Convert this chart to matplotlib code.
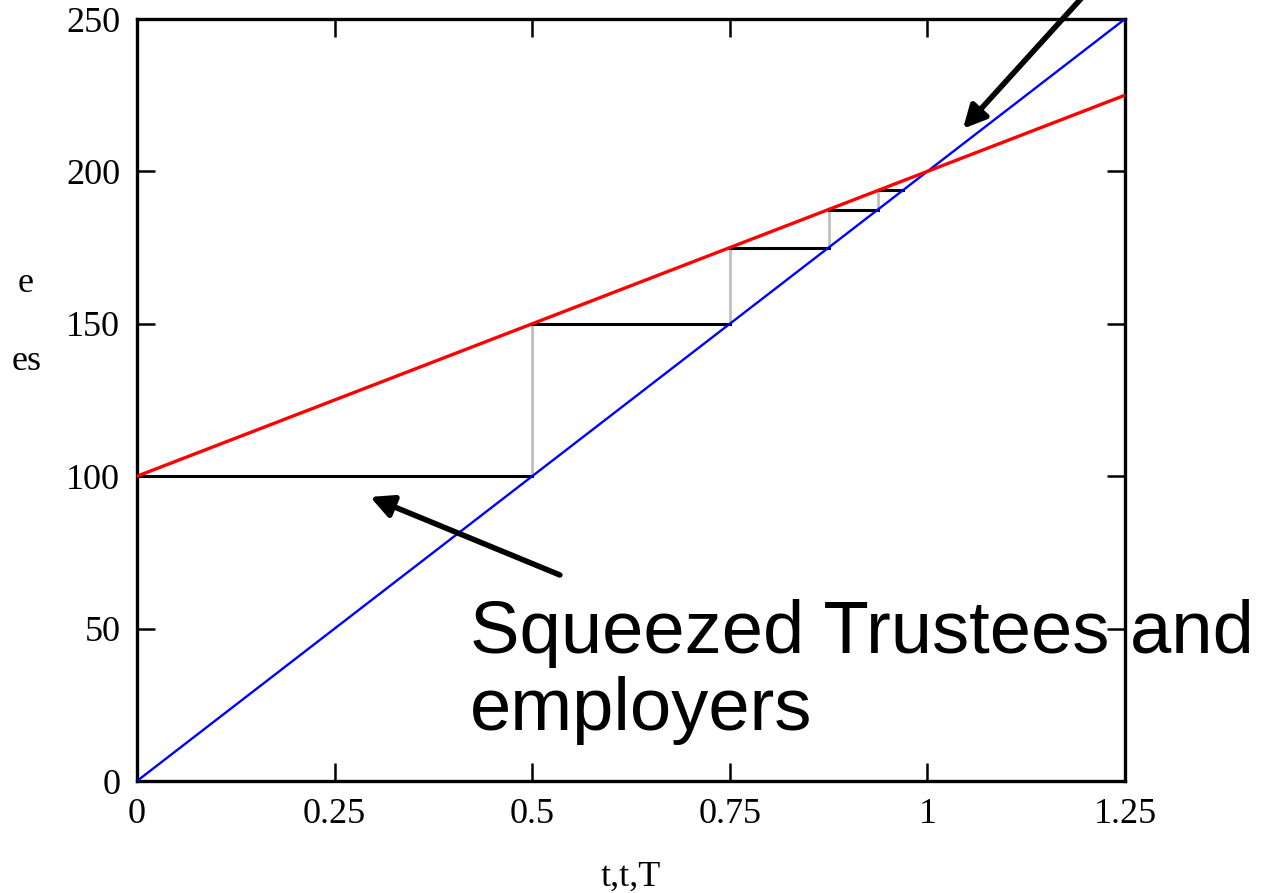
import matplotlib
matplotlib.use('Agg')
import matplotlib.pyplot as plt

# ============================================
# DATA
# ============================================
t_ends = [0.0, 1.25]
blue_vals = [0.0, 250.0]     # liabilities line
red_vals = [100.0, 225.0]    # assets line

# staircase between the two lines
step_x = [0.0, 0.5, 0.75, 0.875, 0.9375, 0.96875]
step_y = [100.0, 150.0, 175.0, 187.5, 193.75]

x_ticks = [0, 0.25, 0.5, 0.75, 1, 1.25]
x_tick_labels = ['0', '0.25', '0.5', '0.75', '1', '1.25']
y_ticks = [0, 50, 100, 150, 200, 250]

# arrow positions (data coords)
arrow_top_tail = (1.199, 258.0)
arrow_top_head = (1.045, 214.0)
arrow_low_tail = (0.535, 67.6)
arrow_low_head = (0.295, 93.2)

W, H = 1269, 893
fig = plt.figure(figsize=(W / 100, H / 100), dpi=100)
ax = fig.add_axes([137 / W, 1 - 781 / H, (1125 - 137) / W, (781 - 19) / H])

# main lines
ax.plot(t_ends, blue_vals, color='#0000ff', linewidth=1.7, zorder=3)
ax.plot(t_ends, red_vals, color='#ff0000', linewidth=2.4, zorder=3)

# staircase
for i in range(len(step_y)):
    ax.plot([step_x[i], step_x[i + 1]], [step_y[i], step_y[i]],
            color='black', linewidth=2.2, zorder=2)
    if i + 1 < len(step_y):
        ax.plot([step_x[i + 1], step_x[i + 1]], [step_y[i], step_y[i + 1]],
                color='#c0c0c0', linewidth=2.0, zorder=1)

ax.set_xlim(0, 1.25)
ax.set_ylim(0, 250)
ax.set_xticks(x_ticks)
ax.set_xticklabels(x_tick_labels)
ax.set_yticks(y_ticks)

for s in ax.spines.values():
    s.set_linewidth(2.4)

ax.tick_params(direction='in', length=13, width=1.8, top=True, right=True,
               labelsize=26)
ax.tick_params(axis='y', pad=12)
ax.tick_params(axis='x', pad=12)
for lab in ax.get_xticklabels() + ax.get_yticklabels():
    lab.set_fontfamily('Liberation Serif')

ax.set_xlabel('t,t,T', fontsize=26, family='Liberation Serif', labelpad=22)

# clipped y label remnants
fig.text(34 / W, 1 - 283 / H, 'e', fontsize=26, family='Liberation Serif',
         ha='right', va='center')
fig.text(42 / W, 1 - 362 / H, 'es', fontsize=26, family='Liberation Serif',
         ha='right', va='center')

# arrows
arrow_kw = dict(arrowstyle='-|>', color='black', lw=4, mutation_scale=34,
                shrinkA=0, shrinkB=0)
ax.annotate('', xy=arrow_top_head, xytext=arrow_top_tail,
            arrowprops=arrow_kw, annotation_clip=False)
ax.annotate('', xy=arrow_low_head, xytext=arrow_low_tail,
            arrowprops=arrow_kw, annotation_clip=False)

fig.text(470 / W, 1 - 730 / H, 'Squeezed Trustees and\nemployers',
         fontsize=53.5, family='Liberation Sans', ha='left', va='baseline',
         linespacing=1.15, zorder=10)

fig.savefig('out.png', dpi=100, facecolor='white')
